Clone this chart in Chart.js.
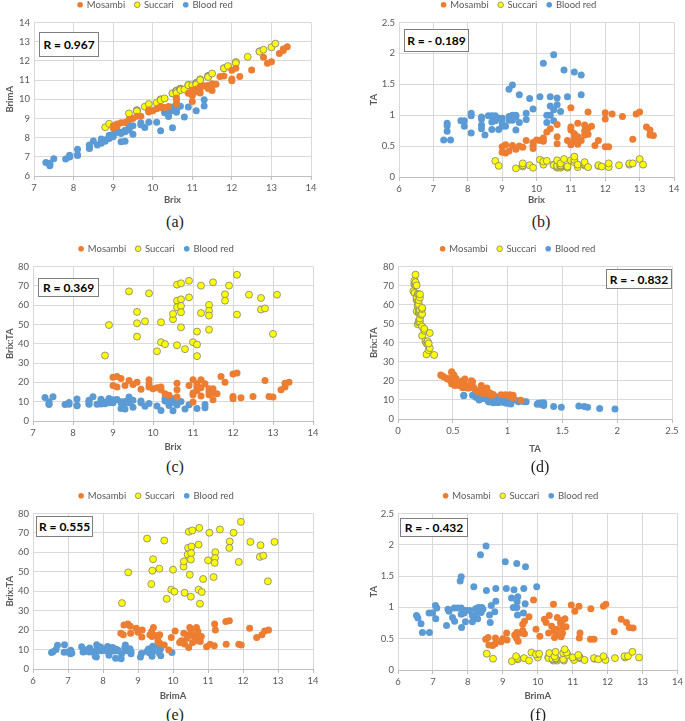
<!DOCTYPE html>
<html lang="en">
<head>
<meta charset="UTF-8" />
<title>Brix, BrimA, TA and Brix:TA of three citrus varieties</title>
<script src="https://cdn.jsdelivr.net/npm/chart.js"></script>
<style>
  body {
    margin: 0;
    background: #fff;
    width: 685px;
    height: 721px;
    position: relative;
    overflow: hidden;
    font-family: Lato, 'Liberation Sans', sans-serif;
  }
  canvas { position: absolute; }
  .rbox {
    position: absolute;
    box-sizing: border-box;
    border: 1px solid #7f7f7f;
    background: #fff;
    color: #000;
    font: bold 12px Lato, sans-serif;
    display: flex;
    align-items: center;
    justify-content: center;
    white-space: pre;
  }
  .cap {
    position: absolute;
    transform: translate(-50%, -50%);
    font: 16px 'Liberation Serif', serif;
    color: #222;
  }
</style>
</head>
<body>
<script>
  // one entry per fruit sample, same order in every array of a variety
  const mosBrix  = [9.0,9.0,9.1,9.1,9.2,9.3,9.4,9.5,9.6,9.7,9.9,9.9,9.9,10.0,10.1,10.2,10.2,10.3,10.4,10.6,10.6,10.6,10.9,11.0,11.0,11.0,11.0,11.1,11.1,11.1,11.2,11.2,11.2,11.3,11.4,11.4,11.4,11.5,11.5,11.5,11.6,11.7,11.8,12.0,12.0,12.0,12.1,12.2,12.5,12.8,12.9,13.0,13.2,13.3,13.3,13.4];
  const mosTA    = [0.40,0.49,0.39,0.52,0.42,0.51,0.45,0.50,0.48,0.59,0.46,0.51,0.56,0.60,0.59,0.58,0.63,0.73,0.78,0.54,0.65,0.85,0.59,0.52,0.76,0.81,1.12,0.58,0.63,0.70,0.53,0.65,0.87,0.59,0.68,0.75,0.84,0.69,0.79,1.05,0.82,0.51,0.59,0.49,0.94,1.04,0.49,1.02,0.98,0.61,1.02,1.05,0.81,0.76,0.68,0.67];
  const mosBrimA = [8.60,8.51,8.71,8.58,8.78,8.79,8.95,9.00,9.12,9.11,9.44,9.39,9.34,9.40,9.51,9.62,9.57,9.57,9.62,10.06,9.95,9.75,10.31,10.48,10.24,10.19,9.88,10.52,10.47,10.40,10.67,10.55,10.33,10.71,10.72,10.65,10.56,10.81,10.71,10.45,10.78,11.19,11.21,11.51,11.06,10.96,11.61,11.18,11.52,12.19,11.88,11.95,12.39,12.54,12.62,12.73];
  const mosRatio = [22.7,18.4,23.1,17.6,22.0,18.4,21.0,18.9,20.1,16.4,21.3,19.3,17.6,16.7,17.2,17.6,16.2,14.1,13.3,19.6,16.2,12.4,18.4,21.3,14.5,13.6,9.8,19.3,17.6,15.8,21.3,17.2,12.9,19.3,16.7,15.3,13.6,16.7,14.5,11.0,14.1,23.1,20.1,24.4,12.7,11.5,24.8,12.0,12.7,21.0,12.7,12.4,16.2,17.6,19.6,20.1];

  const sucBrix  = [8.8,8.9,9.4,9.6,9.6,9.6,9.8,9.9,10.1,10.2,10.2,10.3,10.5,10.5,10.6,10.6,10.6,10.6,10.7,10.7,10.7,10.7,10.7,10.8,10.9,10.9,11.0,11.1,11.1,11.1,11.2,11.2,11.4,11.4,11.4,11.4,11.5,11.8,11.8,11.9,12.1,12.1,12.4,12.7,12.7,12.8,13.0,13.1];
  const sucTA    = [0.26,0.18,0.14,0.17,0.19,0.22,0.19,0.15,0.28,0.20,0.25,0.26,0.20,0.19,0.15,0.17,0.18,0.27,0.15,0.17,0.18,0.19,0.22,0.29,0.15,0.17,0.27,0.24,0.28,0.33,0.16,0.20,0.19,0.20,0.21,0.24,0.16,0.18,0.19,0.17,0.16,0.22,0.19,0.20,0.22,0.22,0.29,0.20];
  const sucBrimA = [8.54,8.72,9.26,9.43,9.41,9.38,9.61,9.75,9.82,10.00,9.95,10.04,10.30,10.31,10.45,10.43,10.42,10.33,10.55,10.53,10.52,10.51,10.48,10.51,10.75,10.73,10.73,10.86,10.82,10.77,11.04,11.00,11.21,11.20,11.19,11.16,11.34,11.62,11.61,11.73,11.94,11.88,12.21,12.50,12.48,12.58,12.71,12.90];
  const sucRatio = [33.9,49.7,67.1,56.5,50.6,43.7,51.6,66.1,36.1,51.1,40.8,39.8,52.7,55.4,70.6,62.3,58.9,39.2,71.3,63.0,59.6,56.3,48.5,37.2,72.6,64.0,40.8,46.3,39.6,33.6,70.1,55.9,60.1,57.1,54.6,47.3,71.8,65.6,62.3,70.1,75.7,55.1,65.4,63.7,57.7,58.3,45.1,65.4];

  const bldBrix  = [7.3,7.5,7.4,7.4,7.4,7.8,7.9,7.9,8.1,8.1,8.1,8.4,8.4,8.4,8.4,8.5,8.6,8.7,8.7,8.7,8.8,8.8,8.9,8.9,9.0,9.0,9.0,9.1,9.2,9.3,9.2,9.2,9.3,9.3,9.4,9.4,9.4,9.5,9.5,9.7,9.7,9.8,9.9,10.1,10.2,10.3,10.3,10.4,10.4,10.4,10.5,10.5,10.5,10.6,10.6,10.7,10.8,10.9,11.1,11.3,11.3];
  const bldTA    = [0.60,0.60,0.87,0.83,0.74,0.91,0.91,0.82,1.03,0.99,0.71,0.97,0.94,0.84,0.78,0.68,0.99,0.99,0.89,0.77,0.99,0.91,0.77,0.95,0.95,0.87,0.82,0.82,1.42,1.49,0.98,0.92,1.00,0.92,1.00,0.97,0.76,1.33,0.88,1.03,0.93,1.27,1.10,1.30,1.84,1.00,0.88,1.30,1.15,1.00,1.98,1.09,0.91,1.28,1.17,1.06,1.73,1.30,1.70,1.65,1.33];
  const bldBrimA = [6.70,6.90,6.53,6.57,6.66,6.89,6.99,7.08,7.07,7.11,7.39,7.43,7.46,7.56,7.62,7.82,7.61,7.71,7.81,7.93,7.81,7.89,8.13,7.95,8.05,8.13,8.18,8.28,7.78,7.81,8.22,8.28,8.30,8.38,8.40,8.43,8.64,8.17,8.62,8.67,8.77,8.53,8.80,8.80,8.36,9.30,9.42,9.10,9.25,9.40,8.52,9.41,9.59,9.32,9.43,9.64,9.07,9.60,9.40,9.65,9.97];
  const bldRatio = [12.2,12.5,8.5,8.9,10.0,8.6,8.7,9.6,7.9,8.2,11.4,8.7,8.9,10.0,10.8,12.5,8.7,8.8,9.8,11.3,8.9,9.7,11.6,9.4,9.5,10.3,11.0,11.1,6.5,6.2,9.4,10.0,9.3,10.1,9.4,9.7,12.4,7.1,10.8,9.4,10.4,7.7,9.0,7.8,5.5,10.3,11.7,8.0,9.0,10.4,5.3,9.6,11.5,8.3,9.1,10.1,6.2,8.4,6.5,6.8,8.5];

  const varieties = ['Mosambi', 'Succari', 'Blood red'];
  const rValues = ['R = 0.967', 'R = - 0.189', 'R = 0.369', 'R = - 0.832', 'R = 0.555', 'R = - 0.432'];
  const captions = ['(a)', '(b)', '(c)', '(d)', '(e)', '(f)'];

  const cols = {
    brix:  [mosBrix, sucBrix, bldBrix],
    ta:    [mosTA, sucTA, bldTA],
    brima: [mosBrimA, sucBrimA, bldBrimA],
    ratio: [mosRatio, sucRatio, bldRatio]
  };
  const fills = ['#ED7D31', '#FFFF00', '#5B9BD5'];
  const strokes = ['#ED7D31', '#7F7F7F', '#5B9BD5'];

  // x/y: which measure, xs/ys: [min, max, step], box: R label [left, top, w, h], cap: caption centre
  const panels = [
    { x: 'brix', y: 'brima', xt: 'Brix', yt: 'BrimA', xs: [7, 14, 1], ys: [6, 14, 1],
      left: 0, top: -10, w: 330, h: 220, pad: [0, 19], yW: 34, xH: 34, box: [39, 32, 60, 25], cap: [175, 222] },
    { x: 'brix', y: 'ta', xt: 'Brix', yt: 'TA', xs: [6, 14, 1], ys: [0, 2.5, 0.5],
      left: 340, top: -10, w: 345, h: 220, pad: [24, 11], yW: 35, xH: 33, box: [404, 29, 65, 23], cap: [541, 222] },
    { x: 'brix', y: 'ratio', xt: 'Brix', yt: 'Brix:TA', xs: [7, 14, 1], ys: [0, 80, 10],
      left: 0, top: 234, w: 330, h: 223, pad: [0, 17], yW: 33, xH: 36, box: [38, 278, 61, 19], cap: [175, 467] },
    { x: 'ta', y: 'ratio', xt: 'TA', yt: 'Brix:TA', xs: [0, 2.5, 0.5], ys: [0, 80, 10],
      left: 340, top: 234, w: 345, h: 225, pad: [24, 13], yW: 34, xH: 40, box: [606, 269, 66, 20], cap: [540, 467] },
    { x: 'brima', y: 'ratio', xt: 'BrimA', yt: 'Brix:TA', xs: [6, 14, 1], ys: [0, 80, 10],
      left: 0, top: 481, w: 330, h: 225, pad: [0, 17], yW: 33, xH: 37, box: [36, 516, 57, 21], cap: [175, 715] },
    { x: 'brima', y: 'ta', xt: 'BrimA', yt: 'TA', xs: [6, 14, 1], ys: [0, 2.5, 0.5],
      left: 340, top: 481, w: 345, h: 225, pad: [24, 7], yW: 34, xH: 36, box: [400, 518, 68, 19], cap: [538, 715] }
  ];

  Chart.defaults.font.family = "Lato, 'Liberation Sans', sans-serif";

  function pts(xs, ys) {
    return xs.map((v, i) => ({ x: v, y: ys[i] }));
  }

  // Excel style: 1 not 1.0
  const plain = v => String(+v.toFixed(2));

  const tickFont = { size: 9.5 };
  const titleFont = { size: 9.5, weight: 'bold' };

  panels.forEach((p, n) => {
    const cv = document.createElement('canvas');
    cv.width = p.w;
    cv.height = p.h;
    cv.style.left = p.left + 'px';
    cv.style.top = p.top + 'px';
    document.body.appendChild(cv);

    const chart = new Chart(cv, {
      type: 'scatter',
      data: {
        datasets: varieties.map((name, k) => ({
          label: name,
          data: pts(cols[p.x][k], cols[p.y][k]),
          backgroundColor: fills[k],
          borderColor: strokes[k],
          borderWidth: k === 1 ? 0.8 : 0,
          pointRadius: 3.5
        }))
      },
      options: {
        responsive: false,
        animation: false,
        events: [],
        layout: { padding: { left: p.pad[0], right: p.pad[1], top: 0, bottom: 0 } },
        plugins: {
          legend: {
            position: 'top',
            labels: {
              usePointStyle: true,
              pointStyle: 'circle',
              boxWidth: 4,
              boxHeight: 4,
              padding: 10,
              color: '#595959',
              font: { size: 9.5 }
            }
          },
          tooltip: { enabled: false }
        },
        scales: {
          x: {
            type: 'linear',
            min: p.xs[0], max: p.xs[1],
            ticks: { stepSize: p.xs[2], color: '#595959', font: tickFont, padding: 2, maxRotation: 0, callback: plain },
            grid: { color: '#d9d9d9', tickColor: '#bfbfbf', tickLength: 4 },
            border: { color: '#bfbfbf' },
            title: { display: true, text: p.xt, color: '#595959', font: titleFont, padding: { top: 4, bottom: 4 } },
            afterFit: s => { s.height = p.xH; }
          },
          y: {
            type: 'linear',
            min: p.ys[0], max: p.ys[1],
            ticks: { stepSize: p.ys[2], color: '#595959', font: tickFont, padding: 4, callback: plain },
            grid: { color: '#d9d9d9', drawTicks: false },
            border: { display: false },
            title: { display: true, text: p.yt, color: '#595959', font: titleFont, padding: { top: 4, bottom: 4 } },
            afterFit: s => { s.width = p.yW; }
          }
        }
      }
    });
    // Excel leaves a bit more room under the legend
    const fit = chart.legend.fit;
    chart.legend.fit = function () { fit.call(this); this.height += 3; };
    chart.update();

    const box = document.createElement('div');
    box.className = 'rbox';
    box.style.left = p.box[0] + 'px';
    box.style.top = p.box[1] + 'px';
    box.style.width = p.box[2] + 'px';
    box.style.height = p.box[3] + 'px';
    box.textContent = rValues[n];
    document.body.appendChild(box);

    const cap = document.createElement('div');
    cap.className = 'cap';
    cap.style.left = p.cap[0] + 'px';
    cap.style.top = p.cap[1] + 'px';
    cap.textContent = captions[n];
    document.body.appendChild(cap);
  });
</script>
</body>
</html>
